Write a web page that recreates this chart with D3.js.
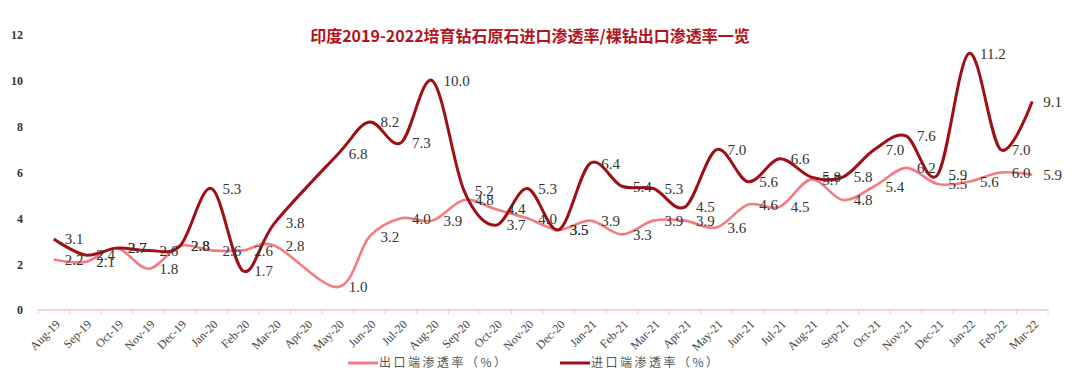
<!DOCTYPE html>
<html>
<head>
<meta charset="utf-8">
<script src="https://cdn.jsdelivr.net/npm/d3@7/dist/d3.min.js"></script>
<style>
  body { margin: 0; background: #fff; }
  svg { display: block; }
</style>
</head>
<body>
<div class="chart"></div>
<script>
// months on the x axis
var months = ["Aug-19","Sep-19","Oct-19","Nov-19","Dec-19","Jan-20","Feb-20","Mar-20","Apr-20","May-20",
  "Jun-20","Jul-20","Aug-20","Sep-20","Oct-20","Nov-20","Dec-20","Jan-21","Feb-21","Mar-21",
  "Apr-21","May-21","Jun-21","Jul-21","Aug-21","Sep-21","Oct-21","Nov-21","Dec-21","Jan-22",
  "Feb-22","Mar-22"];

// 出口端渗透率 (%) -- Apr-20 has no data
var exportRate = [2.2,2.1,2.7,1.8,2.8,2.6,2.6,2.8,null,1.0,
  3.2,4.0,3.9,4.8,4.4,4.0,3.5,3.9,3.3,3.9,
  3.9,3.6,4.6,4.5,5.7,4.8,5.4,6.2,5.5,5.6,
  6.0,5.9];

// 进口端渗透率 (%)
var importRate = [3.1,2.4,2.7,2.6,2.8,5.3,1.7,3.8,null,6.8,
  8.2,7.3,10.0,5.2,3.7,5.3,3.5,6.4,5.4,5.3,
  4.5,7.0,5.6,6.6,5.8,5.8,7.0,7.6,5.9,11.2,
  7.0,9.1];

var yTicks = [0,2,4,6,8,10,12];
var seriesNames = ["出口端渗透率（%）","进口端渗透率（%）"];
var title = "印度2019-2022培育钻石原石进口渗透率/裸钻出口渗透率一览";

var width = 1080, height = 371;
var colors = {exp: "#f47b82", imp: "#9e1016"};

var svg = d3.select(".chart").append("svg")
  .attr("width", width)
  .attr("height", height);

// ---------------------------------- SCALES
var x = d3.scaleBand()
  .domain(months)
  .range([38, 1048])
  .padding(0);

var y = d3.scaleLinear()
  .domain([0, 12])
  .range([310, 35]);

function cx(m) { return x(m) + x.bandwidth() / 2; }

// ---------------------------------- TITLE
svg.append("text")
  .attr("x", 530)
  .attr("y", 42)
  .attr("text-anchor", "middle")
  .style("font-family", "'Noto Sans CJK SC', 'Noto Sans', sans-serif")
  .style("font-weight", "bold")
  .style("font-size", "16px")
  .style("fill", "#b2141c")
  .text(title);

// ---------------------------------- Y AXIS
var yAxis = d3.axisLeft(y).tickValues(yTicks).tickSize(0).tickPadding(3);
var yg = svg.append("g")
  .attr("transform", "translate(26,0)")
  .call(yAxis);
yg.select(".domain").remove();
yg.selectAll("text")
  .style("font-family", "'Liberation Serif', serif")
  .style("font-size", "12px")
  .style("font-weight", "bold")
  .style("fill", "#333");

// ---------------------------------- X AXIS
var xg = svg.append("g").attr("class", "axis x");
xg.append("line")
  .attr("x1", x.range()[0]).attr("x2", x.range()[1])
  .attr("y1", y(0)).attr("y2", y(0))
  .attr("stroke", "#f0c8c8").attr("stroke-width", 1.5);

var bounds = months.map(function(m){ return x(m); }).concat([x.range()[1]]);
xg.selectAll("line.tick")
  .data(bounds)
  .enter().append("line")
    .attr("class", "tick")
    .attr("x1", function(d){ return d; })
    .attr("x2", function(d){ return d; })
    .attr("y1", y(0))
    .attr("y2", y(0) + 4)
    .attr("stroke", "#f0c8c8");

xg.selectAll("text")
  .data(months)
  .enter().append("text")
    .attr("transform", function(d){ return "translate(" + (cx(d) + 4) + "," + (y(0) + 12) + ") rotate(-45)"; })
    .attr("text-anchor", "end")
    .attr("dy", "0.35em")
    .style("font-family", "'Liberation Serif', serif")
    .style("font-size", "12px")
    .style("fill", "#444")
    .text(function(d){ return d; });

// ---------------------------------- LINES
function points(values) {
  return months.map(function(m, i){ return {m: m, v: values[i]}; })
    .filter(function(d){ return d.v != null; });
}

var line = d3.line()
  .x(function(d){ return cx(d.m); })
  .y(function(d){ return y(d.v); })
  .curve(d3.curveCardinal);

var expPts = points(exportRate);
var impPts = points(importRate);

svg.append("path")
  .attr("fill", "none")
  .attr("stroke", colors.exp)
  .attr("stroke-width", 2.6)
  .attr("d", line(expPts));

svg.append("path")
  .attr("fill", "none")
  .attr("stroke", colors.imp)
  .attr("stroke-width", 3)
  .attr("d", line(impPts));

// ---------------------------------- DATA LABELS
[expPts, impPts].forEach(function(pts){
  svg.append("g").selectAll("text")
    .data(pts)
    .enter().append("text")
      .attr("x", function(d){ return cx(d.m) + 11; })
      .attr("y", function(d){ return y(d.v); })
      .attr("dy", "0.35em")
      .style("font-family", "'Liberation Serif', serif")
      .style("font-size", "15px")
      .style("fill", "#333")
      .text(function(d){ return d.v.toFixed(1); });
});

// ---------------------------------- LEGEND
var legend = svg.append("g");
var legendItems = [
  {name: seriesNames[0], color: colors.exp, x: 348},
  {name: seriesNames[1], color: colors.imp, x: 560}
];
legendItems.forEach(function(d){
  legend.append("line")
    .attr("x1", d.x).attr("x2", d.x + 30)
    .attr("y1", 363).attr("y2", 363)
    .attr("stroke", d.color).attr("stroke-width", 3);
  legend.append("text")
    .attr("x", d.x + 31)
    .attr("y", 363)
    .attr("dy", "0.35em")
    .style("font-family", "'Noto Sans CJK SC', sans-serif")
    .style("font-size", "12px")
    .style("letter-spacing", "2.5px")
    .style("fill", "#555")
    .text(d.name);
});
</script>
</body>
</html>
